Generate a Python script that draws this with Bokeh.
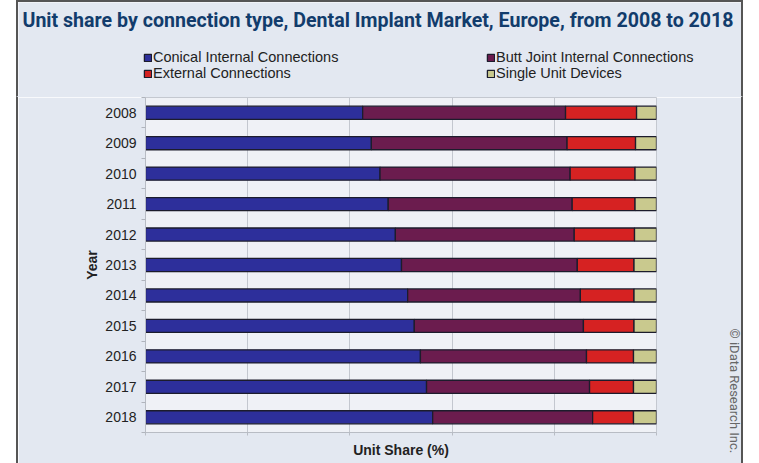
from bokeh.plotting import figure
from bokeh.models import (ColumnDataSource, Range1d, FixedTicker, Legend, LegendItem,
                          Title, Label, CustomJSTickFormatter)
from bokeh.embed import file_html
from bokeh.resources import INLINE

years = [2008, 2009, 2010, 2011, 2012, 2013, 2014, 2015, 2016, 2017, 2018]
conical = [42.5, 44.2, 45.9, 47.5, 48.9, 50.1, 51.3, 52.6, 53.8, 55.0, 56.2]
butt_joint = [39.7, 38.3, 37.2, 36.0, 35.0, 34.4, 33.8, 33.1, 32.5, 31.9, 31.3]
external = [13.9, 13.4, 12.7, 12.3, 11.8, 11.1, 10.5, 9.9, 9.2, 8.6, 8.0]
single_unit = [3.9, 4.1, 4.2, 4.2, 4.3, 4.4, 4.4, 4.4, 4.5, 4.5, 4.5]
series_names = ["Conical Internal Connections", "Butt Joint Internal Connections",
                "External Connections", "Single Unit Devices"]
x_ticks = [0, 20, 40, 60, 80, 100]
title_text = "Unit share by connection type, Dental Implant Market, Europe, from 2008 to 2018"

colors = ["#2d2f9b", "#6b1c4e", "#d62222", "#c9c98e"]
keys = ["conical", "butt", "external", "single"]
outer_bg = "#e3e8f1"
bar_line = "#1c1c2c"
frame_border = "2px solid #555"

source = ColumnDataSource(dict(year=years, conical=conical, butt=butt_joint,
                               external=external, single=single_unit))

W = 727
HH = 97

# ---------- header: title + legend (own root, so it is not frame-aligned) ----------
header = figure(width=W, height=HH, output_backend="svg", toolbar_location=None,
                x_range=Range1d(0, W), y_range=Range1d(HH, 0),
                x_axis_type=None, y_axis_type=None,
                min_border_left=0, min_border_right=0, min_border_top=0, min_border_bottom=0)
header.border_fill_color = outer_bg
header.background_fill_color = outer_bg
header.outline_line_color = None
header.margin = (0, 0, 0, 16)
header.styles = {"border-left": frame_border, "border-right": frame_border,
                 "border-top": frame_border, "border-bottom": "1px solid " + outer_bg}

header.add_layout(Label(x=359.5, y=18, text=title_text, text_font="Roboto",
                        text_font_style="bold", text_font_size="19.6px",
                        text_color="#123c6c", text_align="center", text_baseline="middle"))

# same data, lying outside the header's visible range: only feeds the legend swatches
legend_renderers = header.hbar_stack(keys, y="year", height=0.43, color=colors, source=source,
                                     line_color=bar_line, line_width=1.3)

legend = Legend(items=[LegendItem(label=n, renderers=[r]) for n, r in zip(series_names, legend_renderers)],
                orientation="horizontal", ncols=2, location=(125, HH - 79),
                glyph_width=9, glyph_height=9, label_standoff=1, label_width=333,
                label_height=16, spacing=0, padding=0, margin=0,
                label_text_font="Liberation Sans", label_text_font_size="14.5px",
                label_text_color="#222222", background_fill_alpha=0,
                border_line_color=None)
header.add_layout(legend, "center")

# ---------- main chart ----------
p = figure(width=W, height=366, output_backend="svg", toolbar_location=None,
           x_range=Range1d(0, 100), y_range=Range1d(2018.5, 2007.5),
           min_border_left=127, min_border_right=89, min_border_top=0,
           min_border_bottom=31)
p.border_fill_color = outer_bg
p.background_fill_color = "#eff1f6"
p.outline_line_color = "#c4c8d0"
p.margin = (0, 0, 0, 16)
p.styles = {"border-left": frame_border, "border-right": frame_border}

p.hbar_stack(keys, y="year", height=0.43, color=colors, source=source,
             line_color=bar_line, line_width=1.3)

p.yaxis.ticker = FixedTicker(ticks=years, minor_ticks=[y + 0.5 for y in [2007] + years])
p.yaxis.major_tick_line_color = None
p.yaxis.major_tick_out = 0
p.yaxis.minor_tick_line_color = "#b0b4bc"
p.yaxis.minor_tick_out = 4
p.yaxis.minor_tick_in = 0
p.yaxis.major_label_standoff = 5
p.yaxis.major_label_text_font = "Liberation Sans"
p.yaxis.major_label_text_font_size = "14px"
p.yaxis.major_label_text_color = "#222222"
p.yaxis.axis_line_color = "#b8bcc4"
p.yaxis.axis_label = "Year"
p.yaxis.axis_label_text_font = "Liberation Sans"
p.yaxis.axis_label_text_font_style = "bold"
p.yaxis.axis_label_text_font_size = "14px"
p.yaxis.axis_label_text_color = "#222222"
p.yaxis.axis_label_standoff = 2

p.xaxis.ticker = FixedTicker(ticks=x_ticks)
p.xaxis.formatter = CustomJSTickFormatter(code="return ''")
p.xaxis.major_tick_line_color = "#b8bcc4"
p.xaxis.major_tick_out = 3
p.xaxis.major_tick_in = 0
p.xaxis.minor_tick_line_color = None
p.xaxis.axis_line_color = "#b8bcc4"
p.xaxis.axis_label = "Unit Share (%)"
p.xaxis.axis_label_text_font = "Liberation Sans"
p.xaxis.axis_label_text_font_style = "bold"
p.xaxis.axis_label_text_font_size = "14px"
p.xaxis.axis_label_text_color = "#222222"
p.xaxis.axis_label_standoff = 6

p.xgrid.ticker = FixedTicker(ticks=x_ticks)
p.xgrid.grid_line_color = "#c3c7cf"
p.ygrid.grid_line_color = None

# spacer keeps the copyright line out at the right edge of the panel
spacer = Title(text=" ", text_font_size="1px", standoff=67)
p.add_layout(spacer, "right")
copyright_title = Title(text="© iData Research Inc.", text_font="Roboto",
                        text_font_style="normal", text_font_size="13px",
                        text_color="#666666", align="left", offset=231, standoff=0)
p.add_layout(copyright_title, "right")

open("out.html", "w").write(file_html([header, p], INLINE))
